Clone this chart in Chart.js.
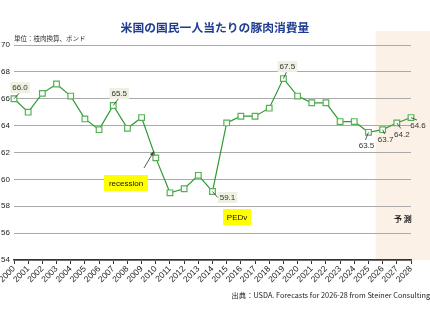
<!DOCTYPE html>
<html>
<head>
<meta charset="utf-8">
<script src="https://cdn.jsdelivr.net/npm/chart.js@4"></script>
<style>
  html, body { margin: 0; padding: 0; background: #fff; }
  #wrap { width: 430px; height: 320px; }
</style>
</head>
<body>
<div id="wrap"><canvas id="pork_chart" width="430" height="320"></canvas></div>
<script>
const years = ['2000','2001','2002','2003','2004','2005','2006','2007','2008','2009',
               '2010','2011','2012','2013','2014','2015','2016','2017','2018','2019',
               '2020','2021','2022','2023','2024','2025','2026','2027','2028'];
const consumption = [66.0, 65.0, 66.4, 67.1, 66.2, 64.5, 63.7, 65.5, 63.8, 64.6,
                     61.6, 59.0, 59.3, 60.3, 59.1, 64.2, 64.7, 64.7, 65.3, 67.5,
                     66.2, 65.7, 65.7, 64.3, 64.3, 63.5, 63.7, 64.2, 64.6];
const yTicks = [54, 56, 58, 60, 62, 64, 66, 68, 70];

// value labels: index into the series, text, offset of label from point, boxed or not
const valueLabels = [
    {i: 0,  text: '66.0', dx: 6,  dy: -11, box: true},
    {i: 7,  text: '65.5', dx: 6,  dy: -12, box: true},
    {i: 19, text: '67.5', dx: 4,  dy: -12, box: true},
    {i: 14, text: '59.1', dx: 15, dy: 6,   box: true},
    {i: 25, text: '63.5', dx: -2, dy: 13,  box: false},
    {i: 26, text: '63.7', dx: 3,  dy: 10,  box: false},
    {i: 27, text: '64.2', dx: 5,  dy: 11,  box: false},
    {i: 28, text: '64.6', dx: 7,  dy: 8,   box: false}
];
// yellow notes, placed in data units (category index, value)
const notes = [
    {text: 'recession', x: 7.9,   y: 59.73, w: 44, h: 16},
    {text: 'PEDv',      x: 15.73, y: 57.2,  w: 28, h: 16}
];
const forecastFrom = 25.5;

const font = "'Noto Sans CJK JP', 'Liberation Sans', sans-serif";

const extras = {
    id: 'extras',
    beforeDraw(c) {
        // forecast shading, under grid and line
        const ctx = c.ctx, a = c.chartArea, xs = c.scales.x;
        ctx.save();
        ctx.fillStyle = '#fcf1e7';
        const x0 = xs.getPixelForValue(forecastFrom);
        ctx.fillRect(x0, a.top - 14, c.width - x0, a.bottom - a.top + 14);
        ctx.restore();
    },
    afterDatasetsDraw(c) {
        const ctx = c.ctx, xs = c.scales.x, ys = c.scales.y;
        ctx.save();
        // title and unit
        ctx.fillStyle = '#1f3c8f';
        ctx.font = "bold 11.8px " + font;
        ctx.textAlign = 'center';
        ctx.textBaseline = 'middle';
        ctx.fillText('米国の国民一人当たりの豚肉消費量', 215, 28);
        ctx.fillStyle = '#333';
        ctx.font = "6.5px " + font;
        ctx.textAlign = 'left';
        ctx.fillText('単位：枝肉換算、ポンド', 14, 39);
        // source
        ctx.fillStyle = '#222';
        ctx.font = "7.3px " + font;
        ctx.textAlign = 'right';
        ctx.fillText('出典：USDA. Forecasts for 2026-28 from Steiner Consulting', 430, 295);
        // forecast mark
        ctx.font = "bold 8px " + font;
        ctx.textAlign = 'center';
        ctx.fillStyle = '#222';
        ctx.fillText('予 測', xs.getPixelForValue(27.43), ys.getPixelForValue(57.05));

        // value labels
        ctx.font = "8px 'Liberation Sans', sans-serif";
        valueLabels.forEach(l => {
            const px = xs.getPixelForValue(l.i), py = ys.getPixelForValue(consumption[l.i]);
            const tx = px + l.dx, ty = py + l.dy;
            const w = ctx.measureText(l.text).width;
            if (l.box) {
                ctx.fillStyle = '#eef0e1';
                ctx.fillRect(tx - w / 2 - 2, ty - 5.5, w + 4, 11);
            }
            ctx.strokeStyle = '#333';
            ctx.lineWidth = 0.8;
            ctx.beginPath();
            const ey = l.dy < 0 ? ty + 5.5 : ty - 5.5;
            if (l.i === 14) {
                ctx.moveTo(tx - w / 2 - 2, ty);
            } else {
                ctx.moveTo(tx - 1, ey);
            }
            ctx.lineTo(px, py);
            ctx.stroke();
            ctx.fillStyle = '#333';
            ctx.textAlign = 'center';
            ctx.fillText(l.text, tx, ty + 0.5);
        });

        // yellow notes
        notes.forEach(n => {
            const cx = xs.getPixelForValue(n.x), cy = ys.getPixelForValue(n.y);
            ctx.fillStyle = '#ffff00';
            ctx.fillRect(cx - n.w / 2, cy - n.h / 2, n.w, n.h);
            ctx.fillStyle = '#111';
            ctx.font = "8px 'Liberation Sans', sans-serif";
            ctx.textAlign = 'center';
            ctx.fillText(n.text, cx, cy + 0.5);
        });

        // recession arrow
        const ax0 = xs.getPixelForValue(9.17), ay0 = ys.getPixelForValue(60.85);
        const ax1 = xs.getPixelForValue(9.87), ay1 = ys.getPixelForValue(62.1);
        ctx.strokeStyle = '#444';
        ctx.fillStyle = '#444';
        ctx.lineWidth = 0.9;
        ctx.beginPath();
        ctx.moveTo(ax0, ay0);
        ctx.lineTo(ax1, ay1);
        ctx.stroke();
        const ang = Math.atan2(ay1 - ay0, ax1 - ax0);
        ctx.beginPath();
        ctx.moveTo(ax1, ay1);
        ctx.lineTo(ax1 - 5 * Math.cos(ang - 0.4), ay1 - 5 * Math.sin(ang - 0.4));
        ctx.lineTo(ax1 - 5 * Math.cos(ang + 0.4), ay1 - 5 * Math.sin(ang + 0.4));
        ctx.closePath();
        ctx.fill();
        ctx.restore();
    }
};

new Chart(document.getElementById('pork_chart'), {
    type: 'line',
    data: {
        labels: years,
        datasets: [{
            data: consumption,
            borderColor: '#2f9a33',
            borderWidth: 1.2,
            pointStyle: 'rect',
            pointRadius: 4,
            pointBorderWidth: 1.2,
            pointBorderColor: '#55b153',
            pointBackgroundColor: '#fff',
            tension: 0
        }]
    },
    options: {
        responsive: false,
        animation: false,
        layout: {padding: {top: 45, right: 19, left: 0, bottom: 0}},
        plugins: {legend: {display: false}, tooltip: {enabled: false}},
        scales: {
            x: {
                offset: false,
                grid: {drawOnChartArea: false, color: '#333', tickLength: 4},
                border: {color: '#333', width: 1.5},
                ticks: {
                    color: '#222', maxRotation: 45, minRotation: 45, autoSkip: false,
                    padding: 0, font: {size: 8.5, family: "'Liberation Sans', sans-serif"}
                },
                afterFit: s => { s.height = 60; }
            },
            y: {
                min: 54, max: 70,
                afterBuildTicks: s => { s.ticks = yTicks.map(v => ({value: v})); },
                grid: {color: '#aaaaaa', lineWidth: 1, drawTicks: false},
                border: {display: false},
                ticks: {color: '#222', padding: 4, font: {size: 8, family: "'Liberation Sans', sans-serif"}},
                afterFit: s => { s.width = 14; }
            }
        }
    },
    plugins: [extras]
});
</script>
</body>
</html>
